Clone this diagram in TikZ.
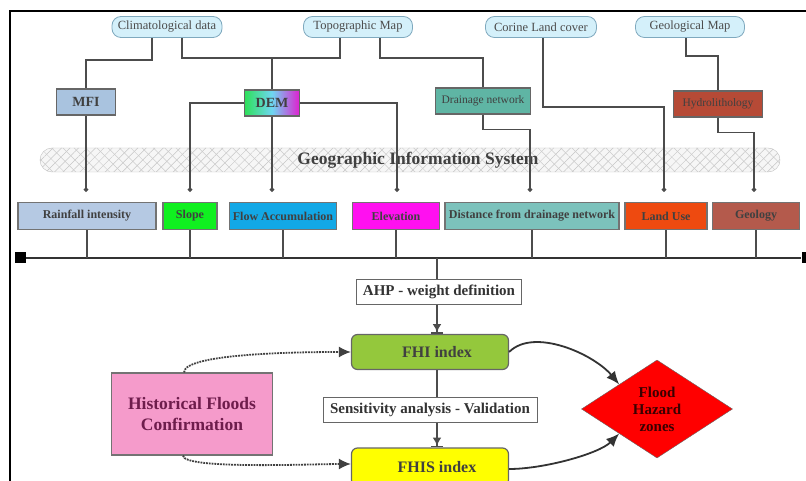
\documentclass[tikz,border=0pt]{standalone}
\usepackage{fontspec}
\setmainfont{Liberation Serif}
\usepackage{tikz}
\usetikzlibrary{arrows.meta,shapes.geometric,patterns.meta}
\definecolor{srcfill}{HTML}{D4F0FA}
\definecolor{srcline}{HTML}{7FA9BE}
\definecolor{mfifill}{HTML}{A9C3DF}
\definecolor{demgreen}{HTML}{2EE05A}
\definecolor{demcyan}{HTML}{6FD6F2}
\definecolor{demmagenta}{HTML}{E01FD0}
\definecolor{drainfill}{HTML}{5FB5A4}
\definecolor{hydrofill}{HTML}{B64A36}
\definecolor{rainfill}{HTML}{B5C9E3}
\definecolor{slopefill}{HTML}{10F020}
\definecolor{flowfill}{HTML}{12A8E6}
\definecolor{elevfill}{HTML}{FF10F0}
\definecolor{distfill}{HTML}{7CC2BC}
\definecolor{landfill}{HTML}{EE4A10}
\definecolor{geolfill}{HTML}{B45A4C}
\definecolor{fhifill}{HTML}{94C83C}
\definecolor{fhisfill}{HTML}{FFFF00}
\definecolor{histfill}{HTML}{F59BCB}
\definecolor{histtext}{HTML}{6E1D4C}
\definecolor{floodtext}{HTML}{3A0000}
\tikzstyle{source}=[rectangle, rounded corners=9pt, draw=srcline, fill=srcfill
,line width=0.8pt
,minimum height=21pt
,inner sep=0pt
,font=\fontsize{12.5}{13}\selectfont, text=black!70
]
\tikzstyle{product}=[rectangle, draw=black!60, line width=1.2pt
,minimum height=26pt
,inner sep=0pt
,font=\bfseries\fontsize{14}{15}\selectfont, text=black!75
]
\tikzstyle{layer}=[rectangle, draw=black!55, line width=1.2pt
,minimum height=27pt
,inner sep=0pt
,font=\bfseries\fontsize{12}{13}\selectfont, text=black!75
]
\tikzstyle{gis}=[rectangle, rounded corners=12pt, draw=gray!50
,preaction={fill=gray!7}
,preaction={pattern={Lines[angle=45,distance=6pt,line width=0.5pt]}, pattern color=gray!45}
,pattern={Lines[angle=-45,distance=8pt,line width=0.5pt]}, pattern color=gray!40
,minimum width=740pt, minimum height=24pt, inner sep=0pt
,font=\bfseries\fontsize{17.5}{19}\selectfont, text=black!75
]
\tikzstyle{stage}=[rectangle, draw=black!60, fill=white, line width=0.9pt
,minimum height=25pt, inner sep=0pt
,font=\bfseries\fontsize{15}{16}\selectfont, text=black!80
]
\tikzstyle{index}=[rectangle, rounded corners=6pt, draw=black!60, line width=1.2pt
,minimum width=157pt, inner sep=0pt
,font=\bfseries\fontsize{16}{18}\selectfont, text=black!75
]
\tikzstyle{busend}=[rectangle, fill=black, minimum size=11pt, inner sep=0pt]
\tikzstyle{edge} = [draw, line width=1.3pt, black!70, -]
\tikzstyle{feed} = [edge, -{Circle[length=4.5pt]}, shorten >=10pt]
\tikzstyle{weigh} = [edge, line width=1.6pt, -{Latex[length=8pt,width=9pt] Bar[width=12pt,line width=1.8pt]}]
\tikzstyle{check} = [draw, densely dotted, line width=1.8pt, black!75, -{Latex[length=12pt,width=11pt]}]
\tikzstyle{result} = [draw, line width=1.8pt, black!80, -{Latex[length=13pt,width=11pt]}]
\begin{document}
\begin{tikzpicture}[x=1pt,y=-1pt]
    \useasboundingbox (0,0) rectangle (806,481);
    % Frame
    \draw[line width=1.6pt] (10,481) -- (10,11) -- (806,11);

    % Data sources on top
    \foreach \pos/\name/\w/\txt in {{(167,27)/clim/110/Climatological data}, {(358,27)/topo/109/Topographic Map},
        {(541,27)/corine/111/Corine Land cover}, {(690,27)/geo/109/Geological Map}}
        \node[source, minimum width=\w] (\name) at \pos {\txt};

    % Derived maps
    \node[product, fill=mfifill, minimum width=59] (mfi) at (86,102) {MFI};
    \node[product, left color=demgreen, right color=demmagenta, middle color=demcyan, minimum width=55] (dem) at (272,103) {DEM};
    \node[product, fill=drainfill, minimum width=95, font=\fontsize{11.5}{12}\selectfont] (drain) at (483,101) {Drainage network};
    \node[product, fill=hydrofill, minimum width=89, font=\fontsize{11.5}{12}\selectfont] (hydro) at (718,104) {Hydrolithology};

    % GIS bar
    \node[gis] (gis) at (410,160) {\hspace*{16pt}Geographic Information System};

    % Factor layers
    \foreach \pos/\name/\w/\col/\txt in {{(87,216)/rain/138/rainfill/Rainfall intensity}, {(190,216)/slope/54/slopefill/Slope},
        {(283,216)/flow/107/flowfill/Flow Accumulation}, {(396,216)/elev/87/elevfill/Elevation},
        {(532,216)/dist/174/distfill/Distance from drainage network}, {(666,216)/landuse/82/landfill/Land Use},
        {(756,216)/geol/87/geolfill/Geology}}
        \node[layer, fill=\col, minimum width=\w] (\name) at \pos {\txt};

    % Sources to maps
    \path[edge] ([xshift=-15pt]clim.south) -- ++(0,22) -| (mfi.north);
    \path[edge] ([xshift=15pt]clim.south) -- ++(0,20) -| (dem.north);
    \path[edge] ([xshift=-18pt]topo.south) -- ++(0,20) -| (dem.north);
    \path[edge] ([xshift=22pt]topo.south) -- ++(0,20) -| (drain.north);
    \path[edge] ([xshift=-4pt]geo.south) -- ++(0,18) -| (hydro.north);

    % Maps to layers
    \path[feed] (mfi.south) -- (mfi.south |- rain.north);
    \path[feed] (dem.west) -| (slope.north);
    \path[feed] (dem.south) -- (dem.south |- flow.north);
    \path[feed] (dem.east) -| ([xshift=1pt]elev.north);
    \path[feed] (drain.south) -- ++(0,15) -| ([xshift=-2pt]dist.north);
    \path[feed] (hydro.south) -- ++(0,15) -| ([xshift=-2pt]geol.north);
    \path[feed] ([xshift=2pt]corine.south) -- ++(0,69) -| ([xshift=-2pt]landuse.north);

    % Bus
    \node[busend] (busL) at (20,258) {};
    \node[busend] (busR) at (807,258) {};
    \draw[line width=2pt, black!80] (busL) -- (busR);
    \foreach \name in {rain, slope, flow, elev, dist, landuse, geol}
        \path[edge, line width=1.6pt] (\name.south) -- (\name.south |- busL);

    % Weighting and indices
    \node[stage, minimum width=165] (ahp) at (439,292) {AHP - weight definition};
    \node[index, fill=fhifill, minimum height=35] (fhi) at (430,352) {\hspace*{14pt}FHI index};
    \node[stage, minimum width=214] (sens) at (430,410) {Sensitivity analysis - Validation};
    \node[index, fill=fhisfill, minimum height=38] (fhis) at (430,467) {\hspace*{14pt}FHIS index};
    \node[rectangle, draw=black!55, line width=1.2pt, fill=histfill, minimum width=161, minimum height=82, inner sep=0pt
        ,align=center, font=\bfseries\fontsize{17.5}{21}\selectfont, text=histtext] (hist) at (192,414) {Historical Floods\\Confirmation};
    \node[diamond, draw=black!60, fill=red, minimum width=151, minimum height=98, inner sep=0pt
        ,align=center, font=\bfseries\fontsize{15}{17}\selectfont, text=floodtext] (flood) at (657,409) {Flood\\Hazard\\zones};

    \path[edge, line width=1.6pt] ([xshift=-2pt]ahp.north |- busL) -- ([xshift=-2pt]ahp.north);
    \path[weigh] ([xshift=-2pt]ahp.south) -- ([xshift=-2pt]ahp.south |- fhi.north);
    \path[edge, line width=1.6pt] ([xshift=7pt]fhi.south) -- ([xshift=7pt]sens.north);
    \path[weigh] ([xshift=7pt]sens.south) -- ([xshift=7pt]fhis.north);

    % Validation and results
    \path[check] ([xshift=-8pt]hist.north) .. controls +(0,-20) and +(-40,0) .. (fhi.west);
    \path[check] ([xshift=-9pt]hist.south) .. controls +(0,14) and +(-40,0) .. ([yshift=3pt]fhis.west);
    \path[result] (fhi.east) .. controls +(25,-25) and +(-25,-30) .. (flood.north west);
    \path[result] ([yshift=-2pt]fhis.east) .. controls +(35,0) and +(-20,20) .. (flood.south west);
\end{tikzpicture}
\end{document}
